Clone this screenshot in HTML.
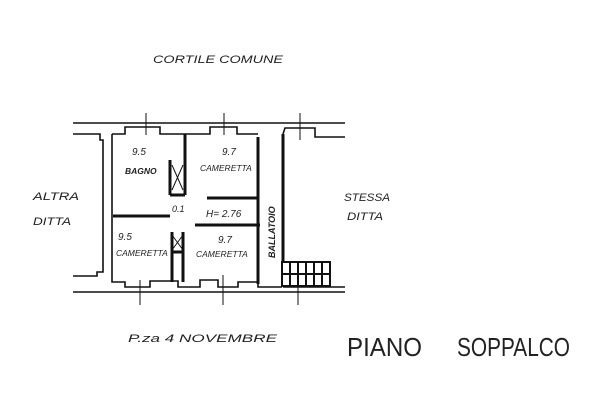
<!DOCTYPE html>
<html><head><meta charset="utf-8"><style>
html,body{margin:0;padding:0;background:#fff;}
svg{display:block}
text{font-family:"Liberation Sans",sans-serif;font-style:italic;fill:#222}
</style></head><body>
<svg width="600" height="415" viewBox="0 0 600 415" xmlns="http://www.w3.org/2000/svg">
<rect width="600" height="415" fill="#fff"/>
<g stroke="#111" fill="none" stroke-width="1.6">
<line x1="73" y1="123" x2="345" y2="123"/>
<line x1="73" y1="292" x2="345" y2="292"/>
<polyline points="73,134 100,134 100,140 103,140 103,272 97,272 97,276 73,276"/>
<polyline points="112,134 112,282 125,282 125,287 150,287 150,281 178,281 178,287 200,287 200,280 218,280 218,287 238,287 238,282 258,282 258,287 282,287"/>
<polyline points="112,134 125,134 125,127 160,127 160,134 185,134"/>
<polyline points="185,134 210,134 210,127 237,127 237,134 258,134"/>
<polyline points="283,134 285,128 315,128 315,137 345,137"/>
<polyline points="283,287 345,287"/>
</g>
<g stroke="#111" fill="none" stroke-width="3">
<line x1="185" y1="134" x2="185" y2="160"/>
<line x1="170" y1="160" x2="170" y2="195"/>
<line x1="170" y1="195" x2="185" y2="195"/>
<line x1="185" y1="160" x2="185" y2="195"/>
<line x1="113" y1="216" x2="170" y2="216"/>
<line x1="207" y1="198" x2="258" y2="198"/>
<line x1="195" y1="225" x2="260" y2="225"/>
<line x1="258" y1="137" x2="258" y2="284"/>
<line x1="283" y1="134" x2="283" y2="262"/>
<line x1="172" y1="232" x2="172" y2="282"/>
<line x1="183" y1="232" x2="183" y2="282"/>
<line x1="172" y1="252" x2="183" y2="252"/>
</g>
<g stroke="#111" stroke-width="1">
<line x1="172" y1="165" x2="183" y2="190"/><line x1="183" y1="165" x2="172" y2="190"/>
<line x1="172" y1="235" x2="183" y2="250"/><line x1="183" y1="235" x2="172" y2="250"/>
<line x1="146" y1="113" x2="146" y2="135"/>
<line x1="224" y1="113" x2="224" y2="135"/>
<line x1="300" y1="113" x2="300" y2="140"/>
<line x1="140" y1="280" x2="140" y2="305"/>
<line x1="223" y1="275" x2="223" y2="305"/>
<line x1="298" y1="280" x2="298" y2="305"/>
</g>
<g stroke="#111" stroke-width="2" fill="none">
<rect x="282" y="262" width="48" height="24"/>
<line x1="282" y1="274" x2="330" y2="274"/>
<line x1="290" y1="262" x2="290" y2="286"/><line x1="298" y1="262" x2="298" y2="286"/>
<line x1="306" y1="262" x2="306" y2="286"/><line x1="314" y1="262" x2="314" y2="286"/>
<line x1="322" y1="262" x2="322" y2="286"/>
</g>
<g font-size="8.5" font-weight="bold">
<text x="125" y="174">BAGNO</text>
<text x="200" y="171" font-weight="normal">CAMERETTA</text>
<text x="116" y="256" font-weight="normal">CAMERETTA</text>
<text x="196" y="257" font-weight="normal">CAMERETTA</text>
<text x="206" y="217" font-weight="normal" font-size="10">H= 2.76</text>
<text x="275" y="258" transform="rotate(-90 275 258)" font-size="9">BALLATOIO</text>
<text x="132" y="155" font-size="10" font-weight="normal">9.5</text>
<text x="222" y="155" font-size="10" font-weight="normal">9.7</text>
<text x="118" y="240" font-size="10" font-weight="normal">9.5</text>
<text x="218" y="243" font-size="10" font-weight="normal">9.7</text>
<text x="172" y="212" font-size="9" font-weight="normal">0.1</text>
</g>
<g font-size="11">
<text x="153" y="63" textLength="130" lengthAdjust="spacingAndGlyphs">CORTILE COMUNE</text>
<text x="33" y="200" textLength="46" lengthAdjust="spacingAndGlyphs">ALTRA</text>
<text x="33" y="225" textLength="38" lengthAdjust="spacingAndGlyphs">DITTA</text>
<text x="344" y="201" textLength="46" lengthAdjust="spacingAndGlyphs">STESSA</text>
<text x="347" y="220" textLength="36" lengthAdjust="spacingAndGlyphs">DITTA</text>
<text x="128" y="342" textLength="149" lengthAdjust="spacingAndGlyphs">P.za 4 NOVEMBRE</text>
</g>
<g font-size="26">
<text x="347" y="356" textLength="75" lengthAdjust="spacingAndGlyphs" style="font-style:normal">PIANO</text>
<text x="457" y="356" textLength="113" lengthAdjust="spacingAndGlyphs" style="font-style:normal">SOPPALCO</text>
</g>
</svg>
</body></html>
